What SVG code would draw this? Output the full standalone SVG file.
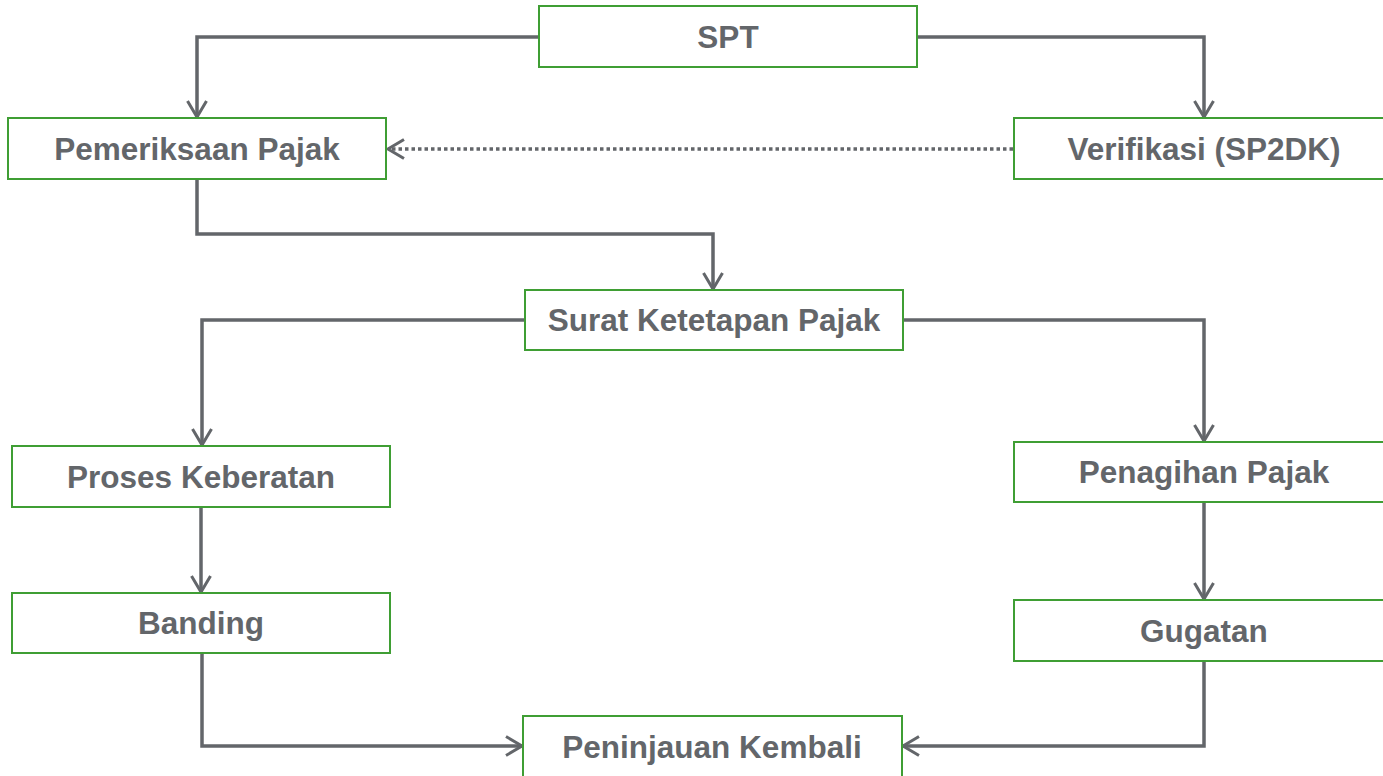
<svg xmlns="http://www.w3.org/2000/svg" width="1383" height="776" viewBox="0 0 1383 776">
<defs>
<style>
.box{fill:#ffffff;stroke:#3f9e34;stroke-width:2}
.lbl{font-family:"Liberation Sans",Arial,sans-serif;font-weight:bold;font-size:31.5px;fill:#63666a;text-anchor:middle}
.con{fill:none;stroke:#63666a;stroke-width:3.5}
.dot{fill:none;stroke:#63666a;stroke-width:3.5;stroke-dasharray:3.5 3}
</style>
<marker id="arr" viewBox="0 0 22 22" refX="19" refY="11" markerWidth="22" markerHeight="22" markerUnits="userSpaceOnUse" orient="auto">
<path d="M3,1.5 L19,11 L3,20.5" fill="none" stroke="#63666a" stroke-width="3"/>
</marker>
</defs>
<rect width="1383" height="776" fill="#ffffff"/>
<g id="connectors">
<path class="con" d="M539,37 H197 V117" marker-end="url(#arr)"/>
<path class="con" d="M917,37 H1204 V117" marker-end="url(#arr)"/>
<path class="dot" d="M1013,149 H388" marker-end="url(#arr)"/>
<path class="con" d="M197,179 V234 H713 V289" marker-end="url(#arr)"/>
<path class="con" d="M525,320 H202 V445" marker-end="url(#arr)"/>
<path class="con" d="M903,320 H1204 V441" marker-end="url(#arr)"/>
<path class="con" d="M201,507 V592" marker-end="url(#arr)"/>
<path class="con" d="M1204,502 V599" marker-end="url(#arr)"/>
<path class="con" d="M202,653 V746 H522" marker-end="url(#arr)"/>
<path class="con" d="M1204,661 V746 H903" marker-end="url(#arr)"/>
</g>
<g id="spt"><rect class="box" x="539" y="6" width="378" height="61"/><text class="lbl" x="728" y="48">SPT</text></g>
<g id="pemeriksaan"><rect class="box" x="8" y="118" width="378" height="61"/><text class="lbl" x="197" y="160">Pemeriksaan Pajak</text></g>
<g id="verifikasi"><rect class="box" x="1014" y="118" width="380" height="61"/><text class="lbl" x="1204" y="160">Verifikasi (SP2DK)</text></g>
<g id="surat"><rect class="box" x="525" y="290" width="378" height="60"/><text class="lbl" x="714" y="331">Surat Ketetapan Pajak</text></g>
<g id="proses"><rect class="box" x="12" y="446" width="378" height="61"/><text class="lbl" x="201" y="488">Proses Keberatan</text></g>
<g id="banding"><rect class="box" x="12" y="593" width="378" height="60"/><text class="lbl" x="201" y="634">Banding</text></g>
<g id="penagihan"><rect class="box" x="1014" y="442" width="380" height="60"/><text class="lbl" x="1204" y="483">Penagihan Pajak</text></g>
<g id="gugatan"><rect class="box" x="1014" y="600" width="380" height="61"/><text class="lbl" x="1204" y="642">Gugatan</text></g>
<g id="peninjauan"><rect class="box" x="523" y="716" width="379" height="62"/><text class="lbl" x="712" y="758">Peninjauan Kembali</text></g>
</svg>
